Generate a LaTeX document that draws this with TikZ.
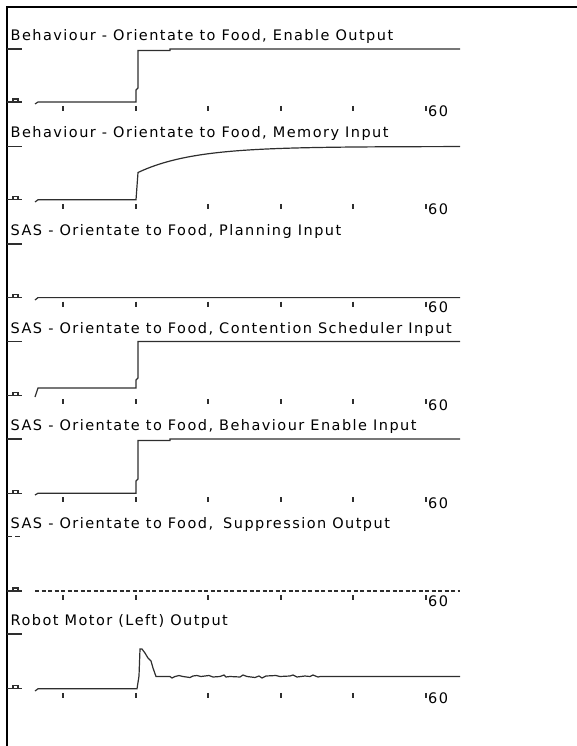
\documentclass[tikz,border=0pt]{standalone}
\usepackage{fontspec}
\usepackage{tikz}
\newfontfamily\plotfont[LetterSpace=10]{DejaVu Sans}
\definecolor{tracegray}{HTML}{2E2E2E}

\begin{document}
\begin{tikzpicture}[x=1pt, y=-1pt]
        \tikzset{title style/.style={inner sep=0pt, anchor=base west, text=black, font=\plotfont\fontsize{14.5}{16}\selectfont}}
        \tikzset{axis label style/.style={inner sep=0pt, anchor=base west, text=black, font=\plotfont\fontsize{14.5}{16}\selectfont}}
        \tikzset{trace style/.style={line width=1.2pt, color=tracegray, line join=miter}}
        \tikzset{tick style/.style={line width=1.1pt, color=tracegray}}

        \useasboundingbox (0,0) rectangle (577,746);
        \draw[line width=2pt] (577,7) -- (7,7) -- (7,746);

        \foreach \s/\l [count=\i] in {49/102, 146.5/199.8, 244/297.6, 341.5/395.4, 439/493.2, 536.5/591, 634/688.8} {
            \ifnum\i=6 \else \draw[tick style] (7,\s) -- (22,\s); \fi
            \draw[tick style] (7,\l) -- (22,\l);
            \draw[tick style] (13,\l) -- (13,\l-3) -- (18,\l-3) -- (18,\l);
            \foreach \x in {63,136,208,281,353,426}
                \draw[tick style] (\x,\l+4) -- (\x,\l+9);
            \node[axis label style] (sixty\i) at (428,\l+15) {60};
        }

        \node[title style] (t1) at (10.5,40.5) {Behaviour - Orientate to Food, Enable Output};
        \node[title style] (t2) at (10.5,138) {Behaviour - Orientate to Food, Memory Input};
        \node[title style] (t3) at (10.5,235.5) {SAS - Orientate to Food, Planning Input};
        \node[title style] (t4) at (10.5,333) {SAS - Orientate to Food, Contention Scheduler Input};
        \node[title style] (t5) at (10.5,430.5) {SAS - Orientate to Food, Behaviour Enable Input};
        \node[title style] (t6) at (10.5,528) {SAS - Orientate to Food,\hspace{4pt} Suppression Output};
        \node[title style] (t7) at (10.5,625.5) {Robot Motor (Left) Output};

        \draw[trace style] (35,104) -- (38,102) -- (136,102) -- (136,90) -- (138,88) -- (138,50.5) -- (170,50.5) -- (170,49) -- (460,49);
        \draw[trace style] (35,202) -- (38,199.8) -- (136,199.8) -- (138,172.5)
            -- plot[domain=138:460, samples=70] (\x, {146.5+26*exp(-(\x-138)/55)});
        \draw[trace style] (35,300) -- (38,297.6) -- (460,297.6);
        \draw[trace style] (35,397) -- (38,388) -- (136,388) -- (136,380) -- (138,378) -- (138,341.5) -- (460,341.5);
        \draw[trace style] (35,495) -- (38,493.2) -- (136,493.2) -- (136,481) -- (138,479) -- (138,440.5) -- (170,440.5) -- (170,439) -- (460,439);
        \draw[trace style, dash pattern=on 5pt off 3pt] (7,536.5) -- (20,536.5);
        \draw[trace style, dash pattern=on 4pt off 2.5pt] (35,591) -- (460,591);
        \draw[trace style] (35,691) -- (38,688.8) -- (137,688.8) -- (139,676) -- (140,649) -- (142,649) -- (145,653) -- (148,658) -- (151,661) -- (153,668) -- (156,676.5)
            -- (170,676.5) -- (172,678) -- (175,676.5) -- (179,675.5) -- (183,676.5) -- (190,677.5) -- (193,676) -- (197,675.5) -- (201,676.5)
            -- (209,675.5) -- (213,677) -- (220,676.5) -- (224,675) -- (226,677) -- (230,676.5) -- (240,677) -- (243,675) -- (247,676.5)
            -- (255,677.5) -- (259,676) -- (262,678) -- (266,676) -- (276,675.5) -- (280,676.5) -- (290,676) -- (293,675) -- (297,677)
            -- (305,676) -- (310,676.5) -- (313,675) -- (318,677) -- (320,676.5) -- (460,676.5);
    \end{tikzpicture}
\end{document}
